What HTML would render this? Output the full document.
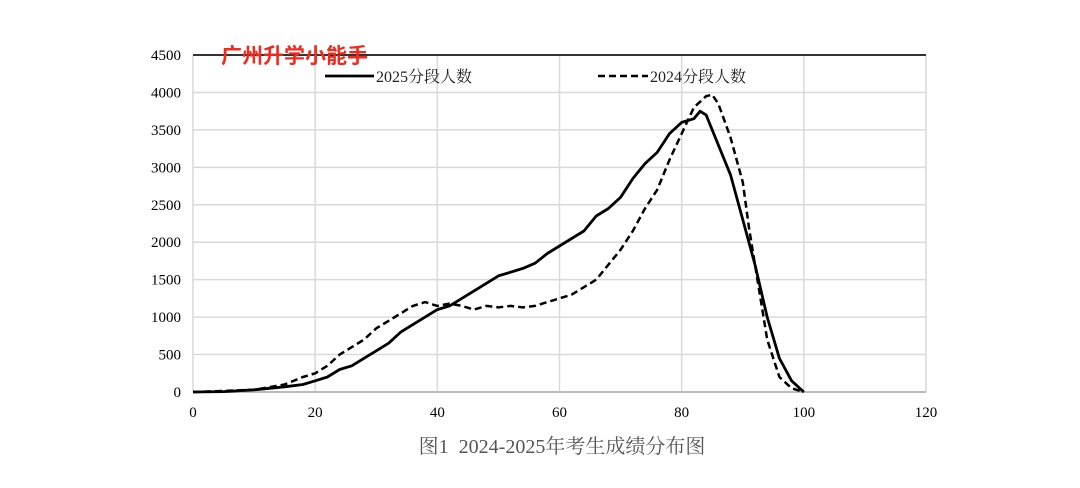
<!DOCTYPE html>
<html><head><meta charset="utf-8"><style>
body{margin:0;background:#fff;}
svg{display:block}
</style></head><body>
<svg id="c" width="1080" height="488" xmlns="http://www.w3.org/2000/svg"></svg>
<script>
const xTicks=[0,20,40,60,80,100,120];
const yTicks=[0,500,1000,1500,2000,2500,3000,3500,4000,4500];
const x2025=[0,5,10,15,18,20,22,24,26,28,30,32,34,36,38,40,42,44,46,48,50,52,54,56,58,60,62,64,66,68,70,72,74,76,78,80,82,83,84,86,88,90,92,94,96,98,100];
const v2025=[0,5,30,70,100,150,200,300,350,450,550,650,800,900,1000,1100,1150,1250,1350,1450,1550,1600,1650,1720,1850,1950,2050,2150,2350,2450,2600,2850,3050,3200,3450,3600,3650,3750,3700,3300,2900,2300,1700,1000,450,150,0];
const x2024=[0,10,15,18,20,22,24,26,28,30,32,34,36,38,40,42,44,46,48,50,52,54,56,58,60,62,64,66,68,70,72,74,76,78,80,82,84,85,86,88,90,91,92,94,96,98,100];
const v2024=[0,30,100,200,250,350,500,600,700,850,950,1050,1150,1200,1150,1180,1150,1100,1150,1130,1150,1130,1150,1200,1250,1300,1400,1500,1700,1900,2150,2450,2700,3100,3450,3800,3950,3970,3850,3400,2800,2200,1700,700,200,50,0];
const PL=193,PR=926,PT=55,PB=392;
const sx=v=>PL+(v/120)*(PR-PL), sy=v=>PB-(v/4500)*(PB-PT);
const svgEl=document.getElementById('c');const NS='http://www.w3.org/2000/svg';
function mk(t,a,txt){const e=document.createElementNS(NS,t);for(const k in a)e.setAttribute(k,a[k]);if(txt!==undefined)e.textContent=txt;svgEl.appendChild(e);return e;}
const F='"Liberation Serif","Noto Serif CJK SC",serif';
yTicks.forEach(v=>{const g=mk('line',{x1:PL,x2:PR,y1:sy(v),y2:sy(v),stroke:'#d9d9d9','stroke-width':1.5});


const t=mk('text',{x:PL-12,y:sy(v)+5,'text-anchor':'end','font-size':15,'font-family':F,fill:'#000'},v);

});
xTicks.forEach(v=>{const g=mk('line',{x1:sx(v),x2:sx(v),y1:PT,y2:PB,stroke:'#d9d9d9','stroke-width':1.5});


const t=mk('text',{x:sx(v),y:PB+25,'text-anchor':'middle','font-size':15,'font-family':F,fill:'#000'},v);

});
const topBorder=mk('line',{x1:PL,x2:PR,y1:PT,y2:PT,stroke:'#333','stroke-width':2});


const botBorder=mk('line',{x1:PL,x2:PR,y1:PB,y2:PB,stroke:'#bbb','stroke-width':2});


function pathD(xs,vs){return xs.map((x,i)=>(i?'L':'M')+sx(x).toFixed(1)+','+sy(vs[i]).toFixed(1)).join('');}
const p4=mk('path',{d:pathD(x2024,v2024),fill:'none',stroke:'#000','stroke-width':2.5,'stroke-dasharray':'7,4','stroke-linejoin':'round'});


const p5=mk('path',{d:pathD(x2025,v2025),fill:'none',stroke:'#000','stroke-width':2.8,'stroke-linejoin':'round'});


const l1=mk('line',{x1:325,x2:374,y1:76,y2:76,stroke:'#000','stroke-width':2.8});


const t1=mk('text',{x:376,y:82,'font-size':16,'font-family':F,fill:'#222'},'2025分段人数');


const l2=mk('line',{x1:598,x2:648,y1:76,y2:76,stroke:'#000','stroke-width':2.5,'stroke-dasharray':'7,4'});


const t2=mk('text',{x:650,y:82,'font-size':16,'font-family':F,fill:'#222'},'2024分段人数');


const wm=mk('text',{x:221,y:63,'font-size':21,'font-weight':'bold','font-family':'"Liberation Sans","Noto Sans CJK SC",sans-serif',fill:'#f02a1e'},'广州升学小能手');


const ct=mk('text',{x:562,y:453,'text-anchor':'middle','font-size':20,'font-family':F,fill:'#555'},'图1\u00a0\u00a02024-2025年考生成绩分布图');


</script>
</body></html>
